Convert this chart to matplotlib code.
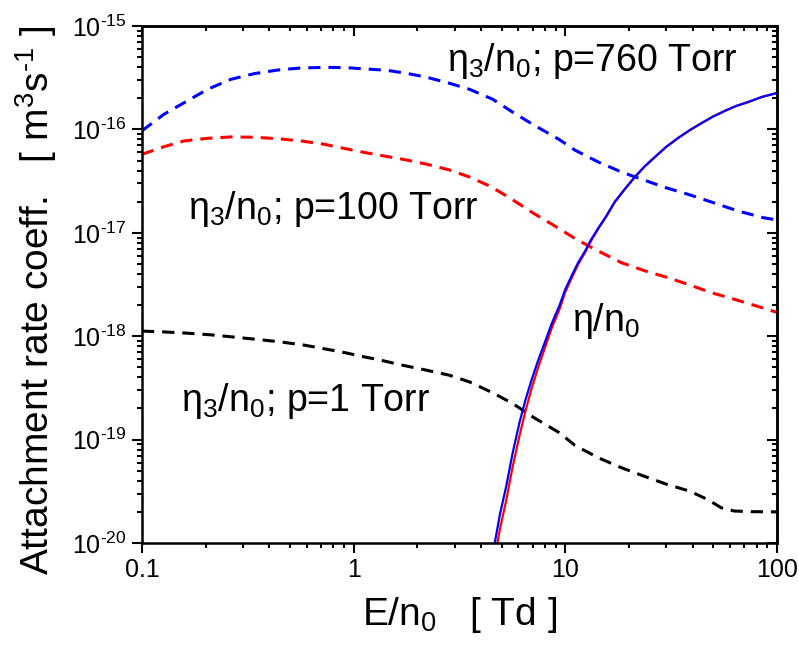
import math

import matplotlib

matplotlib.use("Agg")
import matplotlib.pyplot as plt
from matplotlib.ticker import LogLocator, NullFormatter

# three-body attachment, eta3/n0 at three pressures
x_760 = [0.1, 0.127, 0.158, 0.204, 0.263, 0.339, 0.438, 0.565, 0.753, 0.935, 1.07, 1.43, 1.77, 2.19,
         2.84, 3.53, 4.53, 5.63, 7.11, 9.34, 11.1, 14.3, 18.4, 23.0, 29.5, 37.9, 48.8, 65.1, 86.1, 100]
y_760 = [9.7e-17, 1.40e-16, 1.81e-16, 2.44e-16, 3.05e-16, 3.46e-16, 3.75e-16, 3.93e-16, 3.98e-16,
         3.95e-16, 3.87e-16, 3.73e-16, 3.49e-16, 3.21e-16, 2.79e-16, 2.44e-16, 1.96e-16, 1.47e-16,
         1.10e-16, 8.0e-17, 6.3e-17, 4.84e-17, 3.87e-17, 3.29e-17, 2.75e-17, 2.36e-17, 1.99e-17,
         1.63e-17, 1.40e-17, 1.33e-17]

x_100 = [0.1, 0.127, 0.158, 0.204, 0.263, 0.339, 0.438, 0.565, 0.726, 0.92, 1.07, 1.33, 1.71, 2.19,
         2.84, 3.53, 4.38, 5.44, 6.98, 9.2, 11.1, 14.3, 18.4, 23.9, 30.6, 39.2, 48.8, 62.7, 81.9, 100]
y_100 = [5.74e-17, 6.8e-17, 7.73e-17, 8.2e-17, 8.45e-17, 8.4e-17, 8.13e-17, 7.73e-17, 7.18e-17,
         6.5e-17, 6.1e-17, 5.62e-17, 5.14e-17, 4.63e-17, 4.05e-17, 3.46e-17, 2.84e-17, 2.19e-17,
         1.57e-17, 1.12e-17, 8.8e-18, 6.67e-18, 5.14e-18, 4.27e-18, 3.68e-18, 3.1e-18, 2.64e-18,
         2.28e-18, 1.93e-18, 1.7e-18]

x_1 = [0.1, 0.127, 0.164, 0.212, 0.273, 0.352, 0.453, 0.584, 0.753, 0.92, 1.07, 1.33, 1.71, 2.19,
       2.84, 3.53, 4.53, 5.63, 7.11, 9.34, 11.1, 14.3, 18.4, 23.9, 30.2, 38.6, 46.9, 54.6, 62.7,
       75.7, 100]
y_1 = [1.12e-18, 1.10e-18, 1.07e-18, 1.03e-18, 9.8e-19, 9.3e-19, 8.8e-19, 8.2e-19, 7.46e-19,
       6.9e-19, 6.44e-19, 5.89e-19, 5.23e-19, 4.71e-19, 4.19e-19, 3.61e-19, 2.84e-19, 2.24e-19,
       1.63e-19, 1.17e-19, 8.8e-20, 6.68e-20, 5.35e-20, 4.38e-20, 3.69e-20, 3.18e-20, 2.64e-20,
       2.19e-20, 2.04e-20, 2.01e-20, 2.0e-20]

# two-body attachment eta/n0 (two nearly identical calculations)
x_eta = [4.64, 4.91, 5.26, 5.62, 6.08, 6.48, 6.90, 7.42, 7.98, 8.64, 9.40, 9.96, 10.7, 11.47, 12.4,
         13.2, 14.3, 15.6, 17.1, 19.1, 21.3, 23.8, 26.5, 29.9, 34.1, 38.8, 44.0, 49.8, 56.7, 63.9,
         73.1, 84.9, 100]
y_eta_blue = [1.0e-20, 1.9e-20, 3.56e-20, 7.2e-20, 1.48e-19, 2.42e-19, 3.69e-19, 5.75e-19,
              8.59e-19, 1.34e-18, 2.00e-18, 2.80e-18, 3.82e-18, 5.11e-18, 6.67e-18, 8.51e-18,
              1.11e-17, 1.45e-17, 1.99e-17, 2.65e-17, 3.47e-17, 4.43e-17, 5.41e-17, 6.76e-17,
              8.26e-17, 9.86e-17, 1.15e-16, 1.33e-16, 1.51e-16, 1.68e-16, 1.84e-16, 2.06e-16,
              2.25e-16]
y_eta_red = [7.2e-21, 1.37e-20, 2.6e-20, 5.3e-20, 1.1e-19, 1.89e-19, 3.03e-19, 4.9e-19, 7.56e-19,
             1.21e-18, 1.84e-18, 2.63e-18, 3.63e-18, 4.9e-18, 6.47e-18, 8.3e-18, 1.09e-17,
             1.43e-17, 1.97e-17, 2.64e-17, 3.46e-17, 4.42e-17, 5.4e-17, 6.75e-17, 8.25e-17,
             9.86e-17, 1.15e-16, 1.33e-16, 1.51e-16, 1.68e-16, 1.84e-16, 2.06e-16, 2.25e-16]

HY = "\u2010"  # the source uses a short hyphen in exponents

plt.rcParams["font.family"] = ["Liberation Sans", "DejaVu Sans"]
plt.rcParams["mathtext.default"] = "regular"

fig = plt.figure(figsize=(7.99, 6.48), dpi=100)
ax = fig.add_axes([0.1777, 0.162, 0.7948, 0.7979])

dash = (4, 2.6)
ax.plot(x_760, y_760, color="#0000ff", lw=2.2, dashes=dash)
ax.plot(x_100, y_100, color="#ff0000", lw=2.2, dashes=dash)
ax.plot(x_1, y_1, color="#000000", lw=2.2, dashes=dash)
ax.plot(x_eta, y_eta_red, color="#ff0000", lw=1.6)
ax.plot(x_eta, y_eta_blue, color="#0000ff", lw=1.6)

ax.set_xscale("log")
ax.set_yscale("log")
ax.set_xlim(0.1, 100)
ax.set_ylim(1e-20, 1e-15)


def exp_label(v, pos):
    n = int(round(math.log10(v)))
    sign = HY if n < 0 else ""
    return rf"$10^{{{sign}{abs(n)}}}$"


minor = LogLocator(base=10, subs=range(2, 10))
ax.xaxis.set_major_locator(LogLocator(base=10))
ax.xaxis.set_minor_locator(minor)
ax.yaxis.set_major_locator(LogLocator(base=10))
ax.yaxis.set_minor_locator(LogLocator(base=10, subs=range(2, 10)))
ax.xaxis.set_major_formatter(plt.FuncFormatter(lambda v, p: f"{v:g}"))
ax.yaxis.set_major_formatter(plt.FuncFormatter(exp_label))
ax.xaxis.set_minor_formatter(NullFormatter())
ax.yaxis.set_minor_formatter(NullFormatter())

for s in ax.spines.values():
    s.set_linewidth(1.8)
ax.tick_params(which="both", direction="out", width=1.5, labelsize=18, top=False, right=False)
ax.tick_params(which="major", length=7, pad=4)
ax.tick_params(which="minor", length=3.5)

# mirrored inward ticks on top and right
sec_x = ax.secondary_xaxis("top")
sec_x.xaxis.set_major_locator(LogLocator(base=10))
sec_x.xaxis.set_minor_locator(LogLocator(base=10, subs=range(2, 10)))
sec_x.tick_params(which="both", direction="in", width=1.5, labeltop=False)
sec_x.tick_params(which="major", length=7)
sec_x.tick_params(which="minor", length=3.5)
sec_x.spines["top"].set_linewidth(1.8)
sec_y = ax.secondary_yaxis("right")
sec_y.yaxis.set_major_locator(LogLocator(base=10))
sec_y.yaxis.set_minor_locator(LogLocator(base=10, subs=range(2, 10)))
sec_y.tick_params(which="both", direction="in", width=1.5, labelright=False)
sec_y.tick_params(which="major", length=7)
sec_y.tick_params(which="minor", length=3.5)
sec_y.spines["right"].set_linewidth(1.8)

ax.set_xlabel(r"E/n$_0$   [ Td ]", fontsize=28, va="top")
ax.xaxis.set_label_coords(0.5, -0.10)
ax.set_ylabel(rf"Attachment rate coeff.   [ m$^3$s$^{{{HY}1}}$ ]", fontsize=28)
ax.yaxis.set_label_coords(-0.13, 0.47)

txt = dict(fontsize=27, va="baseline", ha="left", transform=ax.transAxes)
ax.text(0.480, 0.913, r"$\eta_3/n_0$; p=760 Torr", **txt)
ax.text(0.072, 0.627, r"$\eta_3/n_0$; p=100 Torr", **txt)
ax.text(0.061, 0.255, r"$\eta_3/n_0$; p=1 Torr", **txt)
ax.text(0.677, 0.410, r"$\eta/n_0$", **txt)

fig.savefig("out.png", dpi=100)
